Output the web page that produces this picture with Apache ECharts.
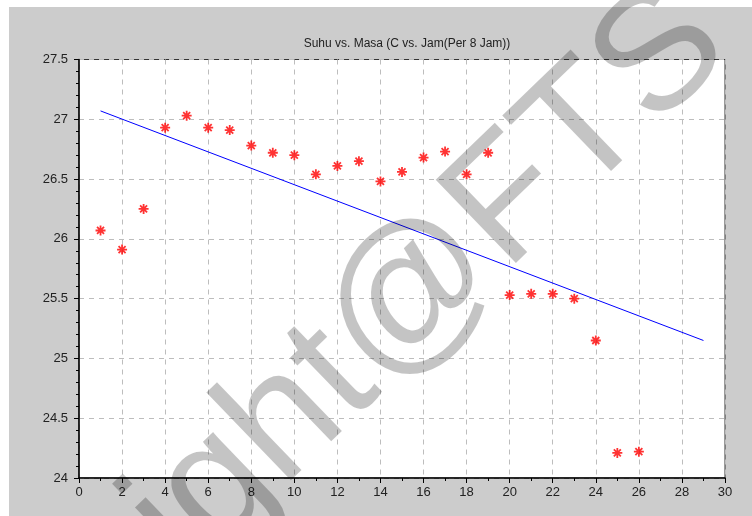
<!DOCTYPE html>
<html>
<head>
<meta charset="utf-8">
<script src="https://cdn.jsdelivr.net/npm/echarts@6/dist/echarts.min.js"></script>
<style>html,body{margin:0;padding:0;background:#fff}#c{width:752px;height:516px}</style>
</head>
<body>
<div id="c"></div>
<script>
var titleText = 'Suhu vs. Masa (C vs. Jam(Per 8 Jam))';
var hours = [1,2,3,4,5,6,7,8,9,10,11,12,13,14,15,16,17,18,19,20,21,22,23,24,25,26];
var temps = [26.07,25.91,26.25,26.93,27.03,26.93,26.91,26.78,26.72,26.70,26.54,26.61,26.65,26.48,26.56,26.68,26.73,26.54,26.72,25.53,25.54,25.54,25.50,25.15,24.21,24.22];
var fitX = [1, 29];
var fitY = [27.07, 25.15];
var watermark = 'Copyright@FTS';

var scatterData = hours.map(function(h, i){ return [h, temps[i]]; });
var fitData = fitX.map(function(x, i){ return [x, fitY[i]]; });

var chart = echarts.init(document.getElementById('c'));
var font = 'Liberation Sans, Arial, sans-serif';
chart.setOption({
  backgroundColor: '#ffffff',
  animation: false,
  title: {
    text: titleText, left: 402, top: 33, textAlign: 'center',
    textStyle: {fontFamily: font, fontSize: 12, fontWeight: 'normal', color: '#222'}
  },
  grid: {left: 79, top: 59.5, right: 27, bottom: 38, show: true, backgroundColor: '#ffffff', borderColor: '#333', borderWidth: 1},
  xAxis: {
    type: 'value', min: 0, max: 30, interval: 2,
    axisLine: {lineStyle: {color: '#000', width: 1.5}},
    axisTick: {length: 5, lineStyle: {color: '#000'}},
    minorTick: {show: true, splitNumber: 2, length: 3, lineStyle: {color: '#000'}},
    axisLabel: {fontFamily: font, fontSize: 13, color: '#222', margin: 8},
    splitLine: {show: true, lineStyle: {color: '#bdbdbd', type: [5, 5]}}
  },
  yAxis: {
    type: 'value', min: 24, max: 27.5, interval: 0.5,
    axisLine: {show: true, lineStyle: {color: '#000', width: 1.5}},
    axisTick: {show: true, length: 5, lineStyle: {color: '#000'}},
    minorTick: {show: true, splitNumber: 5, length: 3, lineStyle: {color: '#000'}},
    axisLabel: {fontFamily: font, fontSize: 13, color: '#222', margin: 11},
    splitLine: {show: true, lineStyle: {color: '#bdbdbd', type: [5, 5]}}
  },
  graphic: [
    {type: 'rect', z: -100, shape: {x: 9, y: 7, width: 743, height: 509}, style: {fill: '#cccccc'}},
    {type: 'text', z: 100, x: 268, y: 438, rotation: 44 * Math.PI / 180,
      style: {text: watermark, fontFamily: font, fontSize: 168, fill: 'rgba(0,0,0,0.23)', textAlign: 'center', textVerticalAlign: 'middle'}}
  ],
  series: [
    {type: 'line', data: fitData, showSymbol: false, lineStyle: {color: '#0000ff', width: 1}, z: 2},
    {type: 'scatter', data: scatterData, symbol: 'path://M5,0L5,10M0,5L10,5M1.5,1.5L8.5,8.5M1.5,8.5L8.5,1.5', symbolSize: 10,
      itemStyle: {color: '#ff0000', borderColor: '#ff0000', borderWidth: 1.8}, z: 3}
  ]
});
</script>
</body>
</html>
